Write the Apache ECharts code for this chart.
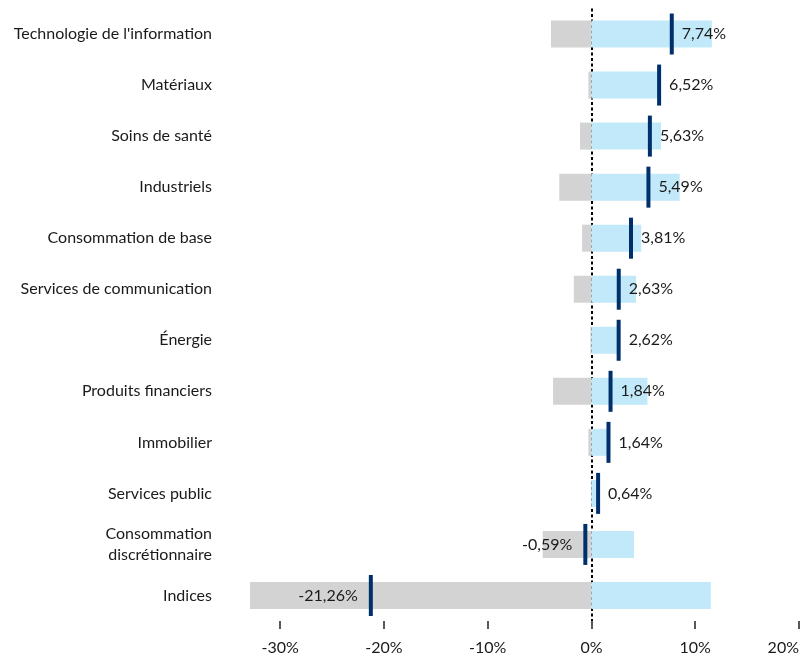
<!DOCTYPE html>
<html>
<head>
<meta charset="utf-8">
<script src="https://cdn.jsdelivr.net/npm/echarts@6/dist/echarts.min.js"></script>
<style>
  html, body { margin: 0; padding: 0; background: #fff; }
  #chart { width: 802px; height: 656px; }
</style>
</head>
<body>
<div id="chart"></div>
<script>
"use strict";

//
// Data
//
const categories = [
  "Technologie de l'information",
  "Matériaux",
  "Soins de santé",
  "Industriels",
  "Consommation de base",
  "Services de communication",
  "Énergie",
  "Produits financiers",
  "Immobilier",
  "Services public",
  "Consommation\ndiscrétionnaire",
  "Indices",
];
// negative part (gray)
const neg_values = [-3.9, -0.3, -1.1, -3.1, -0.9, -1.7, -0.1, -3.7, -0.3, -0.05, -4.7, -32.9];
// positive part (light blue)
const pos_values = [11.6, 6.6, 6.7, 8.5, 4.8, 4.3, 2.7, 5.4, 1.8, 0.6, 4.1, 11.5];
// total (dark marker)
const total_values = [7.74, 6.52, 5.63, 5.49, 3.81, 2.63, 2.62, 1.84, 1.64, 0.64, -0.59, -21.26];
const tick_values = [-30, -20, -10, 0, 10, 20];

//
// Chart
//
const font = "Lato, 'Open Sans', sans-serif";
const fmt_pct = (v) => v.toFixed(2).replace(".", ",") + "%";

const chart = echarts.init(document.getElementById("chart"));
chart.setOption({
  animation: false,
  grid: { left: 249, right: 1, top: 8.5, bottom: 34, containLabel: false },
  xAxis: {
    type: "value",
    min: -33,
    max: 20,
    splitLine: { show: false },
    axisLine: { show: false },
    axisTick: {
      show: true,
      length: 8,
      customValues: tick_values,
      lineStyle: { color: "#222", width: 1.5 },
    },
    axisLabel: {
      customValues: tick_values,
      formatter: (v) => v + "%",
      margin: 19,
      fontSize: 16,
      fontFamily: font,
      color: "#1a1a1a",
      alignMaxLabel: "right",
    },
  },
  yAxis: {
    type: "category",
    data: categories,
    inverse: true,
    axisLine: { show: false },
    axisTick: { show: false },
    axisLabel: {
      margin: 37,
      fontSize: 16,
      lineHeight: 21,
      fontFamily: font,
      color: "#1a1a1a",
    },
  },
  series: [
    {
      type: "bar",
      name: "neg",
      stack: "c",
      data: neg_values,
      barWidth: 27,
      itemStyle: { color: "#d3d3d3" },
      markLine: {
        silent: true,
        symbol: "none",
        z: 1,
        label: { show: false },
        lineStyle: { type: [3, 2.5], color: "#000", width: 2 },
        data: [{ xAxis: 0 }],
      },
    },
    {
      type: "bar",
      name: "pos",
      stack: "c",
      data: pos_values,
      barWidth: 27,
      itemStyle: { color: "#c1e9f9" },
    },
    {
      type: "scatter",
      name: "total",
      z: 5,
      symbol: "rect",
      symbolSize: [4, 41],
      itemStyle: { color: "#00306b", opacity: 1 },
      data: total_values.map((v, i) => ({
        value: [v, i],
        label: {
          position: v < 0 ? "left" : "right",
          distance: v < 0 ? 11 : 8,
        },
      })),
      label: {
        show: true,
        formatter: (p) => fmt_pct(p.value[0]),
        fontSize: 16,
        fontFamily: font,
        color: "#1a1a1a",
      },
    },
  ],
});
</script>
</body>
</html>
